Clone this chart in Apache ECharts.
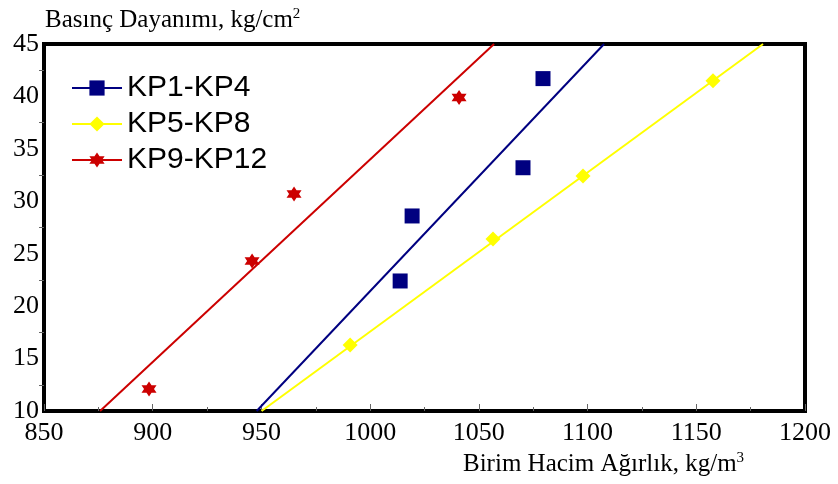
<!DOCTYPE html>
<html>
<head>
<meta charset="utf-8">
<script src="https://cdn.jsdelivr.net/npm/echarts@6/dist/echarts.min.js"></script>
<style>
  html, body { margin: 0; padding: 0; background: #fff; }
  #chart { width: 838px; height: 484px; }
</style>
</head>
<body>
<div id="chart"></div>
<script>
// measured points (birim hacim agirlik, basinc dayanimi)
var kp1 = [[1013.8, 22.4], [1019.3, 28.6], [1070.3, 33.2], [1079.5, 41.7]];
var kp5 = [[990.8, 16.3], [1056.5, 26.4], [1097.9, 32.4], [1157.7, 41.5]];
var kp9 = [[898.3, 12.1], [945.7, 24.3], [965.0, 30.7], [1040.9, 39.9]];

// trend line ends
var fit1 = [[947.8, 10], [1107.6, 45]];
var fit5 = [[950.1, 10], [1180.7, 45]];
var fit9 = [[875.8, 10], [1057.0, 45]];

var names = ['KP1-KP4', 'KP5-KP8', 'KP9-KP12'];
var colors = ['#000080', '#ffff00', '#cc0000'];
var star = 'path://M10 0 L12.885 5 L18.66 5 L15.77 10 L18.66 15 L12.885 15 L10 20 L7.115 15 L1.34 15 L4.23 10 L1.34 5 L7.115 5 Z';
var symbols = ['rect', 'diamond', star];

var chart = echarts.init(document.getElementById('chart'));

var series = [];
[fit1, fit5, fit9].forEach(function (fit, i) {
  series.push({
    name: names[i],
    type: 'line',
    data: fit,
    symbol: symbols[i],
    symbolSize: 15,
    showSymbol: false,
    lineStyle: { color: colors[i], width: 2 },
    itemStyle: { color: colors[i] },
    silent: true
  });
});
[kp1, kp5, kp9].forEach(function (pts, i) {
  series.push({
    name: names[i],
    type: 'scatter',
    data: pts,
    symbol: symbols[i],
    symbolSize: 15,
    itemStyle: { color: colors[i], opacity: 1 }
  });
});

var supStyle = { fontFamily: 'Liberation Serif', fontSize: 15, verticalAlign: 'top', padding: [0, 0, 12, 0] };

chart.setOption({
  animation: false,
  textStyle: { fontFamily: 'Liberation Serif' },
  title: [{
    text: 'Basınç Dayanımı, kg/cm{sup|2}',
    left: 40,
    top: 2,
    textStyle: {
      fontFamily: 'Liberation Serif', fontSize: 25, fontWeight: 'normal', color: '#000',
      rich: { sup: supStyle }
    }
  }, {
    text: 'Birim Hacim Ağırlık, kg/m{sup|3}',
    left: 458,
    top: 446,
    textStyle: {
      fontFamily: 'Liberation Serif', fontSize: 25, fontWeight: 'normal', color: '#000',
      rich: { sup: supStyle }
    }
  }],
  legend: {
    orient: 'vertical',
    left: 66,
    top: 68,
    itemWidth: 50,
    itemHeight: 19,
    itemGap: 6,
    data: names,
    textStyle: { fontFamily: 'Liberation Sans', fontSize: 30, color: '#000' }
  },
  grid: {
    left: 44, right: 33, top: 44, bottom: 73,
    show: true, borderColor: '#000', borderWidth: 4
  },
  xAxis: {
    type: 'value',
    min: 850, max: 1200, interval: 50,
    axisLine: { lineStyle: { color: '#000', width: 4 } },
    axisTick: { inside: true, length: 7, lineStyle: { color: '#666' } },
    minorTick: { show: true, splitNumber: 2, length: 4, lineStyle: { color: '#666' } },
    splitLine: { show: false },
    axisLabel: {
      fontFamily: 'Liberation Serif', fontSize: 26, color: '#000', margin: 9,
      formatter: function (v) { return String(v); }
    }
  },
  yAxis: {
    type: 'value',
    min: 10, max: 45, interval: 5,
    axisLine: { lineStyle: { color: '#000', width: 4 } },
    axisTick: { show: false },
    minorTick: { show: true, splitNumber: 2, length: 5, lineStyle: { color: '#666' } },
    splitLine: { show: false },
    axisLabel: { fontFamily: 'Liberation Serif', fontSize: 26, color: '#000', margin: 5 }
  },
  series: series
});
</script>
</body>
</html>
